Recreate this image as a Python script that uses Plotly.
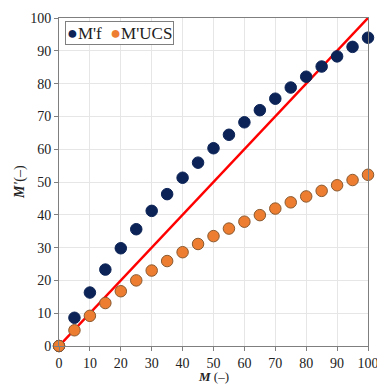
import plotly.graph_objects as go

M = [0, 5, 10, 15, 20, 25, 30, 35, 40, 45, 50, 55, 60, 65, 70, 75, 80, 85, 90, 95, 100]
Mf = [0, 8.6, 16.3, 23.3, 29.8, 35.6, 41.2, 46.3, 51.3, 55.9, 60.3, 64.4, 68.2, 71.9, 75.4,
      78.8, 82.1, 85.2, 88.3, 91.2, 94.0]
Mucs = [0, 4.8, 9.2, 13.1, 16.7, 20.0, 23.0, 25.9, 28.6, 31.1, 33.5, 35.8, 37.9, 39.9, 41.9,
        43.8, 45.6, 47.3, 49.0, 50.6, 52.2]
line_x = [0, 100]
line_y = [0, 100]
series_names = ["M'f", "M'UCS"]
x_title = "<b><i>M</i></b> (–)"
y_title = "<b><i>M'</i></b>(–)"
navy = "#0b2356"
orange = "#ed7d31"

font = "Times New Roman, Liberation Serif, serif"

fig = go.Figure()
fig.add_trace(go.Scatter(x=line_x, y=line_y, mode="lines", line=dict(color="#ff0000", width=2.5),
                         showlegend=False, hoverinfo="skip"))
fig.add_trace(go.Scatter(x=M, y=Mf, mode="markers", name=series_names[0], showlegend=False,
                         cliponaxis=False,
                         marker=dict(color=navy, size=11.5, line=dict(color=navy, width=1))))
fig.add_trace(go.Scatter(x=M, y=Mucs, mode="markers", name=series_names[1], showlegend=False,
                         cliponaxis=False,
                         marker=dict(color=orange, size=11.5, line=dict(color="#8a5a30", width=1))))

axis_common = dict(range=[0, 100], dtick=10, showgrid=True, gridcolor="#e6e6e6", gridwidth=1,
                   showline=True, linecolor="#7f7f7f", linewidth=1, mirror=True,
                   ticks="outside", ticklen=4, tickcolor="#7f7f7f", zeroline=False,
                   ticklabeloverflow="allow", automargin=False,
                   tickfont=dict(family=font, size=14, color="#222222"))

fig.update_layout(
    width=377, height=385,
    margin=dict(l=59, r=9, t=18, b=39),
    paper_bgcolor="white", plot_bgcolor="white",
    font=dict(family=font, size=14, color="#222222"),
    xaxis=dict(**axis_common),
    yaxis=dict(**axis_common),
    showlegend=False,
)

# axis titles
fig.add_annotation(xref="paper", yref="paper", x=0.5, y=-39 / 328, xanchor="center",
                   yanchor="bottom", text=x_title, showarrow=False, borderpad=0,
                   font=dict(family=font, size=13, color="#222222"))
fig.add_annotation(xref="paper", yref="paper", x=-39 / 309, y=0.5, xanchor="center",
                   yanchor="middle", text=y_title, textangle=-90, showarrow=False,
                   font=dict(family=font, size=14, color="#222222"))

legend_text = (f"<span style='color:{navy};font-size:18px'>●</span>{series_names[0]}  "
               f"<span style='color:{orange};font-size:18px'>●</span>{series_names[1]}")
fig.add_annotation(xref="paper", yref="paper", x=0.018, y=0.99, xanchor="left", yanchor="top",
                   text=legend_text, showarrow=False, bordercolor="#7f7f7f", borderwidth=1,
                   bgcolor="white", borderpad=1, font=dict(family=font, size=17, color="#222222"))

fig.write_html("out.html")
